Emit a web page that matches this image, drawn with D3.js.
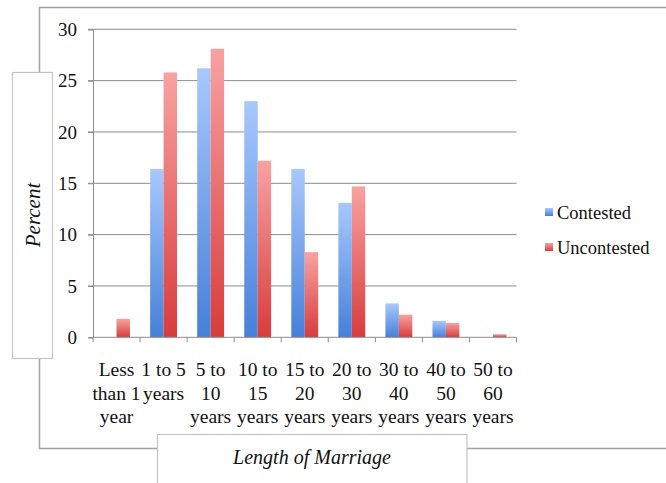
<!DOCTYPE html>
<html>
<head>
<meta charset="utf-8">
<script src="https://cdn.jsdelivr.net/npm/d3@7"></script>
<style>
  html, body { margin: 0; padding: 0; background: #fff; }
  svg { display: block; }
  text { font-family: "Liberation Serif", "DejaVu Serif", serif; fill: #111; }
</style>
</head>
<body>
<svg id="chart" width="666" height="483"></svg>
<script>
// Length of marriage, contested vs uncontested (percent)
const categories = [
  ["Less", "than 1", "year"],
  ["1 to 5", "years"],
  ["5 to", "10", "years"],
  ["10 to", "15", "years"],
  ["15 to", "20", "years"],
  ["20 to", "30", "years"],
  ["30 to", "40", "years"],
  ["40 to", "50", "years"],
  ["50 to", "60", "years"]
];
const categoryKeys = categories.map(c => c.join(" "));
const contested   = [0, 16.4, 26.2, 23.0, 16.4, 13.1, 3.3, 1.6, 0];
const uncontested = [1.8, 25.8, 28.1, 17.2, 8.3, 14.7, 2.2, 1.4, 0.3];
const seriesNames = ["Contested", "Uncontested"];
const yTicks = [0, 5, 10, 15, 20, 25, 30];

const svg = d3.select("#chart");
const grey = "#a3a3a3";

// outer frame: top and left/bottom edges, interrupted by the title boxes
svg.append("path")
  .attr("d", "M666,7.5 H39.5 V72 M39.5,359 V448.5 H157 M467,448.5 H666")
  .attr("fill", "none").attr("stroke", grey).attr("stroke-width", 1.5);

// vertical gradients for the bars
const defs = svg.append("defs");
const grads = [
  { id: "gBlue", top: "#a8c8fc", bottom: "#4680da" },
  { id: "gRed",  top: "#f8a2a2", bottom: "#d83c3c" }
];
grads.forEach(g => {
  const lg = defs.append("linearGradient").attr("id", g.id)
    .attr("x1", 0).attr("y1", 0).attr("x2", 0).attr("y2", 1);
  lg.append("stop").attr("offset", "0%").attr("stop-color", g.top);
  lg.append("stop").attr("offset", "100%").attr("stop-color", g.bottom);
});

const plot = { left: 93, right: 516.5, top: 29.3, bottom: 337.3 };

const x = d3.scaleBand().domain(categoryKeys).range([plot.left, plot.right]);
const y = d3.scaleLinear().domain([0, 30]).range([plot.bottom, plot.top]);

// gridlines
svg.append("g").selectAll("line").data(yTicks.filter(d => d > 0)).join("line")
  .attr("x1", 88).attr("x2", plot.right)
  .attr("y1", d => y(d)).attr("y2", d => y(d))
  .attr("stroke", "#8c8c8c").attr("stroke-width", 1);

// y axis
const yAxis = svg.append("g").attr("transform", `translate(${plot.left},0)`)
  .call(d3.axisLeft(y).tickValues(yTicks).tickSize(5).tickPadding(11));
yAxis.select(".domain").attr("stroke", "#8c8c8c");
yAxis.selectAll(".tick line").attr("stroke", "#8c8c8c");
yAxis.selectAll(".tick text")
  .style("font-family", '"Liberation Serif", serif').style("font-size", "19px")
  .attr("fill", "#111");

// bars: two per category, gap of 1.5 bar widths
const bw = x.bandwidth() / 3.5;
const seriesData = [contested, uncontested];
const fills = ["url(#gBlue)", "url(#gRed)"];
seriesData.forEach((vals, si) => {
  svg.append("g").selectAll("rect").data(vals).join("rect")
    .attr("x", (d, i) => x(categoryKeys[i]) + bw * 0.75 + si * bw)
    .attr("width", bw)
    .attr("y", d => y(d))
    .attr("height", d => y(0) - y(d))
    .attr("fill", fills[si]);
});

// x axis
const xAxis = svg.append("g").attr("transform", `translate(0,${plot.bottom})`);
xAxis.append("line").attr("x1", plot.left).attr("x2", plot.right)
  .attr("y1", 0).attr("y2", 0).attr("stroke", "#8c8c8c");
xAxis.selectAll(".tk").data(d3.range(categoryKeys.length + 1)).join("line")
  .attr("x1", i => plot.left + i * x.bandwidth())
  .attr("x2", i => plot.left + i * x.bandwidth())
  .attr("y1", 0).attr("y2", 5).attr("stroke", "#8c8c8c");

// category labels (multi-line)
categories.forEach((lines, i) => {
  const t = svg.append("text")
    .attr("text-anchor", "middle")
    .style("font-size", "19.5px");
  lines.forEach((ln, j) => {
    t.append("tspan")
      .attr("x", x(categoryKeys[i]) + x.bandwidth() / 2)
      .attr("y", 376 + j * 23.5)
      .text(ln);
  });
});

// y title box
svg.append("rect").attr("x", 12.5).attr("y", 72.5).attr("width", 40).attr("height", 286)
  .attr("fill", "#fff").attr("stroke", "#c4c4c4").attr("stroke-width", 1.2);
svg.append("text")
  .attr("transform", "translate(39.5,215) rotate(-90)")
  .attr("text-anchor", "middle")
  .style("font-size", "21px").style("font-style", "italic")
  .text("Percent");

// x title box
svg.append("rect").attr("x", 157.5).attr("y", 434.5).attr("width", 309.5).attr("height", 60)
  .attr("fill", "#fff").attr("stroke", "#c4c4c4").attr("stroke-width", 1.2);
svg.append("text")
  .attr("x", 312).attr("y", 464)
  .attr("text-anchor", "middle")
  .style("font-size", "20px").style("font-style", "italic")
  .text("Length of Marriage");

// legend
const legend = svg.append("g");
seriesNames.forEach((name, i) => {
  const gy = 213 + i * 35;
  legend.append("rect").attr("x", 545).attr("y", gy - 5).attr("width", 8).attr("height", 8)
    .attr("fill", fills[i]);
  legend.append("text").attr("x", 557).attr("y", gy + 6)
    .style("font-size", "18.5px").text(name);
});
</script>
</body>
</html>
